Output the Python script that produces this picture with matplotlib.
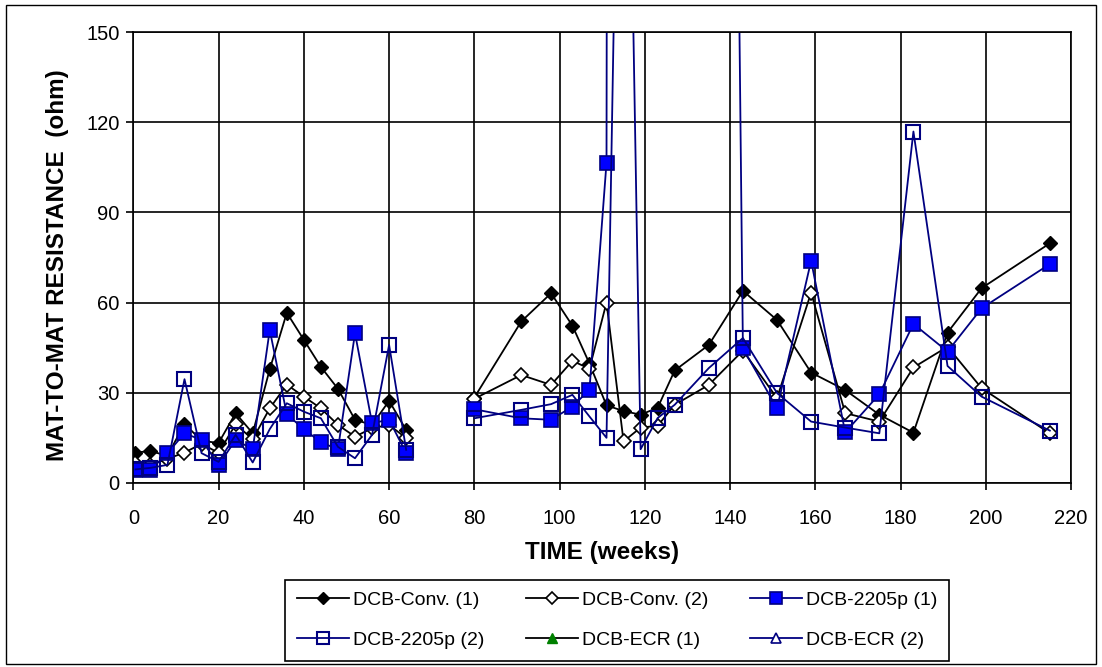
import numpy as np
import matplotlib
matplotlib.use("Agg")
import matplotlib.pyplot as plt
from matplotlib.patches import Rectangle

plt.rcParams['font.family'] = ['Liberation Sans', 'DejaVu Sans']

# test weeks (first period, then second period after the break)
weeks_early = [0.5, 4, 8, 12, 16, 20, 24, 28, 32, 36, 40, 44, 48, 52, 56, 60, 64]
weeks_late = [80, 91, 98, 103, 107, 111, 115, 119, 123, 127, 135, 143, 151, 159,
              167, 175, 183, 191, 199, 215]
# 2205p (1) has no readings between 115 and 143
weeks_late_p1 = [80, 91, 98, 103, 107, 111, 115, 143, 151, 159, 167, 175, 183,
                 191, 199, 215]

# mat-to-mat resistance (ohm)
conv1_early = [10.1, 10.6, 9.0, 19.7, 14.0, 13.3, 23.2, 16.5, 37.8, 56.6, 47.6,
               38.6, 31.3, 21.0, 19.3, 27.3, 17.6]
conv1_late = [28.4, 53.7, 63.1, 52.3, 39.7, 25.8, 23.9, 22.7, 25.0, 37.4, 45.9,
              63.9, 54.2, 36.7, 30.9, 22.7, 16.7, 50.0, 64.8, 79.7]

conv2_early = [6.5, 6.0, 8.0, 10.1, 13.0, 10.0, 19.5, 14.5, 24.8, 32.7, 28.7,
               24.8, 19.3, 15.4, 18.2, 19.3, 14.9]
conv2_late = [28.0, 35.9, 32.6, 40.6, 38.0, 60.0, 13.8, 18.4, 19.0, 26.0, 32.6,
              44.0, 28.2, 63.3, 23.2, 20.4, 38.4, 45.3, 31.5, 16.5]

p1_early = [4.3, 4.3, 9.9, 16.5, 14.3, 6.0, 14.3, 11.2, 50.9, 22.8, 17.9, 13.5,
            11.2, 49.8, 19.9, 21.0, 9.9]
p1_late = [24.5, 21.5, 21.0, 25.4, 31.0, 106.5, 3700.0, 44.8, 24.8, 73.9, 16.8,
           29.5, 52.9, 43.7, 58.1, 72.8]

p2_early = [4.5, 5.0, 6.0, 34.5, 9.9, 7.0, 16.0, 6.8, 17.9, 26.5, 23.7, 21.5,
            12.0, 8.2, 16.0, 45.9, 11.0]
p2_late = [21.5, 24.3, 26.2, 29.3, 22.1, 15.0, 340.0, 11.2, 21.6, 26.0, 38.2,
           48.2, 29.9, 20.4, 18.4, 16.5, 116.9, 38.9, 28.7, 17.4]

# ECR specimens: legend entries only, no readings shown
ecr1_weeks, ecr1_vals = [], []
ecr2_weeks, ecr2_vals = [], []

labels = ['DCB-Conv. (1)', 'DCB-Conv. (2)', 'DCB-2205p (1)',
          'DCB-2205p (2)', 'DCB-ECR (1)', 'DCB-ECR (2)']

NAVY = '#000080'


def join(a, b):
    """Glue two periods together with a break between them."""
    return list(a) + [np.nan] + list(b)


fig = plt.figure(figsize=(11.02, 6.67), dpi=100)
ax = fig.add_axes([0.121, 0.276, 0.851, 0.676])

lw = 1.3
h1, = ax.plot(join(weeks_early, weeks_late), join(conv1_early, conv1_late),
              color='black', lw=lw, marker='D', ms=7.5, mfc='black', mec='black')
h2, = ax.plot(join(weeks_early, weeks_late), join(conv2_early, conv2_late),
              color='black', lw=lw, marker='D', ms=7, mfc='white', mec='black',
              mew=1.2)
h3, = ax.plot(join(weeks_early, weeks_late_p1), join(p1_early, p1_late),
              color=NAVY, lw=lw, marker='s', ms=10.5, mfc='#0000FF', mec=NAVY,
              mew=1.2)
h4, = ax.plot(join(weeks_early, weeks_late), join(p2_early, p2_late),
              color=NAVY, lw=lw, marker='s', ms=10, mfc='none', mec=NAVY,
              mew=1.5)
h5, = ax.plot(ecr1_weeks, ecr1_vals, color='black', lw=lw, marker='^', ms=9,
              mfc='#008000', mec='#008000')
h6, = ax.plot(ecr2_weeks, ecr2_vals, color=NAVY, lw=lw, marker='^', ms=9,
              mfc='white', mec=NAVY, mew=1.2)

ax.set_xlim(0, 220)
ax.set_ylim(0, 150)
ax.set_xticks(np.arange(0, 221, 20))
ax.set_yticks(np.arange(0, 151, 30))
ax.grid(True, color='black', linewidth=1.2)
ax.set_axisbelow(True)
for sp in ax.spines.values():
    sp.set_linewidth(1.2)
ax.tick_params(direction='out', length=5, width=1.2, labelsize=14.5)
ax.tick_params(axis='x', pad=14)
ax.tick_params(axis='y', pad=5)

ax.set_xlabel('TIME (weeks)', fontsize=17.5, fontweight='bold', labelpad=9)
ax.set_ylabel('MAT-TO-MAT RESISTANCE  (ohm)', fontsize=17.5, fontweight='bold')
ax.yaxis.set_label_coords(-0.069, 0.483)

# legend laid out row by row like the original (3 columns)
handles = [h1, h2, h3, h4, h5, h6]
order = [0, 3, 1, 4, 2, 5]
leg = ax.legend([handles[i] for i in order], [labels[i] for i in order],
                ncol=3, loc='upper left', mode='expand',
                bbox_to_anchor=(285 / 1102, 1 - 580 / 667, 664 / 1102, 0),
                bbox_transform=fig.transFigure, borderaxespad=0,
                fontsize=14, frameon=True,
                fancybox=False, edgecolor='black', framealpha=1,
                handlelength=2.7, handletextpad=0.2, columnspacing=1.8,
                labelspacing=1.15, borderpad=0.6, markerscale=0.85)
leg.get_frame().set_linewidth(1.2)

# outer frame around the whole chart
fig.patches.append(Rectangle((0.005, 0.004), 0.99, 0.989, transform=fig.transFigure,
                             fill=False, edgecolor='black', linewidth=1.0))

fig.savefig('out.png', dpi=100)
